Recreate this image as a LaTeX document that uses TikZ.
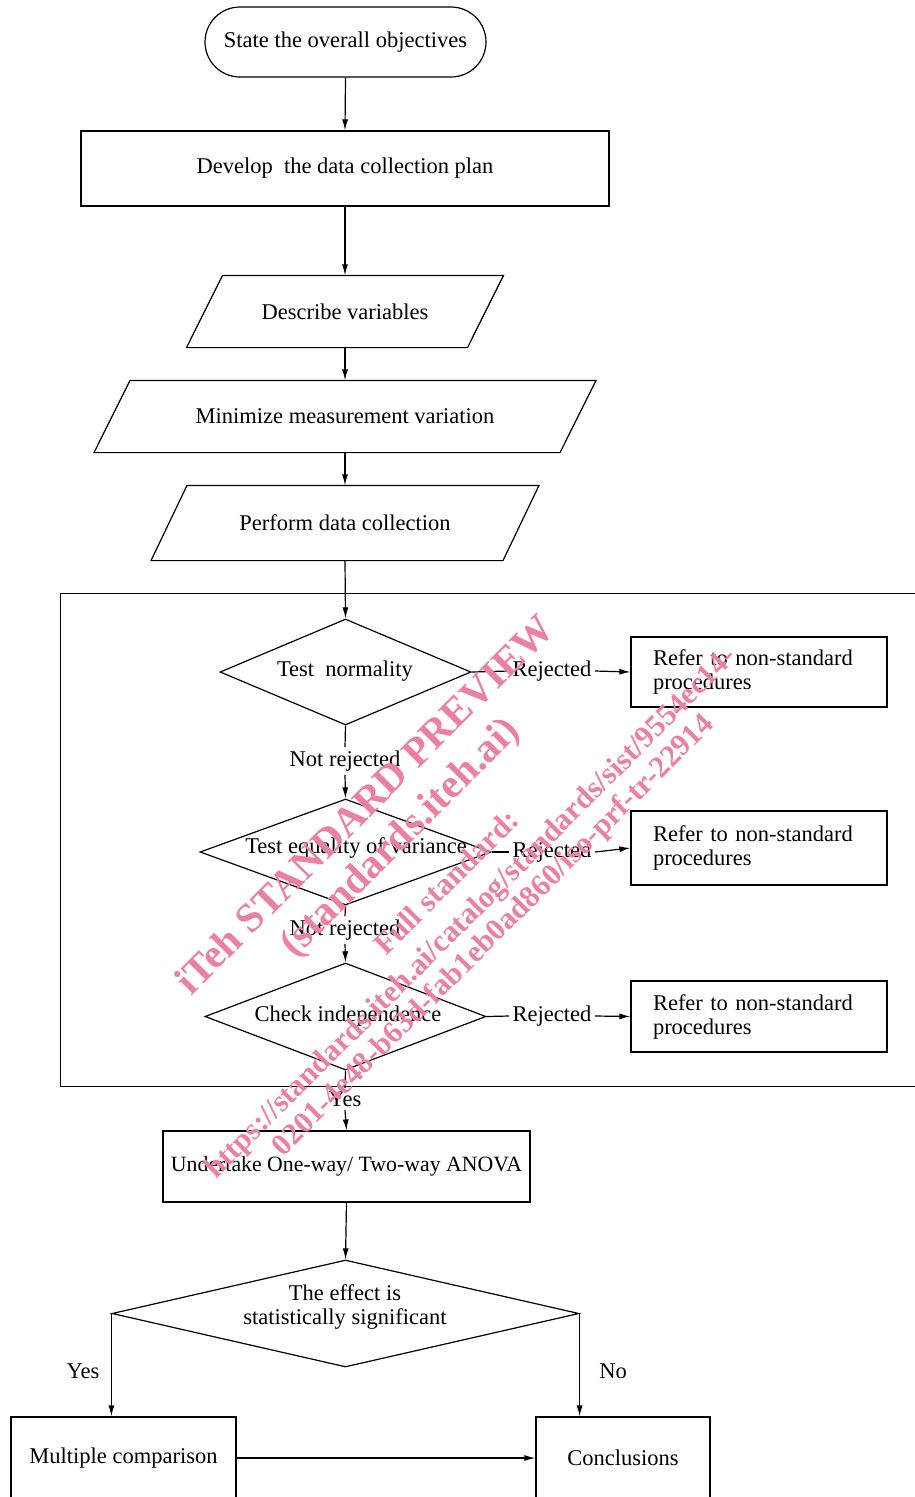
\documentclass[tikz,border=0pt]{standalone}
\usepackage{fontspec}
\setmainfont{Liberation Serif}
\usetikzlibrary{shapes.geometric,arrows.meta,calc}
\definecolor{wm}{RGB}{236,128,160}
\newcommand{\paraoutline}[3]{\draw ([xshift=#3-#2]#1.north) -- ([xshift=#3+#2]#1.north) -- ([xshift=#2-#3]#1.south) -- ([xshift=-#2-#3]#1.south) -- cycle;}
\tikzset{
  term/.style={draw, rounded corners=35pt, minimum width=281pt, minimum height=70pt, inner sep=0pt},
  proc/.style={draw, inner sep=0pt},
  dia/.style={draw, diamond, inner sep=0pt},
  lbl/.style={inner sep=3pt},
  refer/.style={draw, text width=212pt, align=left, inner xsep=22pt, inner ysep=0pt},
  para/.style={inner sep=0pt},
  wmark/.style={text=wm, rotate=45, inner sep=0pt},
  flow/.style={->},
}
\begin{document}
\begin{tikzpicture}[x=1pt,y=-1pt, line width=1.2pt, >={Latex[length=11pt,width=6pt]}, font=\fontsize{22.5}{24}\selectfont]
\useasboundingbox (0,0) rectangle (915,1497);
\clip (0,0) rectangle (915,1497);

% frame
\node[draw, minimum width=870pt, minimum height=493pt, anchor=north west, inner sep=0pt] (frame) at (60,593) {};

\node[term] (start) at (345.5,42) {State the overall objectives};
\node[proc, minimum width=528pt, minimum height=75pt] (dev) at (345,168.5) {Develop\ \ the data collection plan};
\node[para, minimum height=71pt] (p1) at (345,311.5) {Describe variables};
\paraoutline{p1}{140.5}{18}
\node[para, minimum height=71pt] (p2) at (345,416.5) {Minimize measurement variation};
\paraoutline{p2}{233}{18}
\node[para, minimum height=74pt] (p3) at (345,523) {Perform data collection};
\paraoutline{p3}{176}{18}

\node[dia, minimum width=251pt, minimum height=106pt] (d1) at (345.5,672) {};
\node (t1) at (345,671) {Test\ \ normality};
\node[dia, minimum width=291pt, minimum height=106pt] (d2) at (345.5,852) {};
\node (t2) at (356,848) {Test equality of variance};
\node[dia, minimum width=281pt, minimum height=107pt] (d3) at (345.5,1016.5) {};
\node (t3) at (348,1016) {Check independence};

\node[refer, minimum height=70pt] (b1) at (759,672) {Refer to non-standard\\procedures};
\node[refer, minimum height=74pt] (b2) at (759,848) {Refer to non-standard\\procedures};
\node[refer, minimum height=71pt] (b3) at (759,1016.5) {Refer to non-standard\\procedures};

\node[lbl] (r1) at (552,671) {Rejected};
\node[lbl] (r2) at (552,852) {Rejected};
\node[lbl] (r3) at (552,1016) {Rejected};
\node[lbl] (nr1) at (345,761) {Not rejected};
\node[lbl] (nr2) at (345,930) {Not rejected};
\node[lbl] (y1) at (345,1099) {Yes};

\node[proc, minimum width=367pt, minimum height=71pt, font=\fontsize{21.8}{24}\selectfont] (anova) at (346.5,1166.5) {Undertake One-way/ Two-way ANOVA};
\node[dia, minimum width=467pt, minimum height=107pt] (d4) at (345.5,1313.5) {};
\node[align=center] (t4) at (345,1307) {The effect is\\statistically significant};

\node[proc, minimum width=225pt, minimum height=82pt] (mc) at (123.5,1458) {Multiple comparison};
\node[proc, minimum width=174pt, minimum height=82pt] (conc) at (623,1458) {Conclusions};
\node (yes2) at (83,1371) {Yes};
\node (no2) at (613,1371) {No};

% connectors
\draw[flow] (start.south) -- (dev.north);
\draw[flow] (dev.south) -- (p1.north);
\draw[flow] (p1.south) -- (p2.north);
\draw[flow] (p2.south) -- (p3.north);
\draw[flow] (p3.south) -- (d1.north);
\draw (d1.east) -- (r1.west);
\draw[flow] (r1.east) -- (b1.west);
\draw (d1.south) -- (nr1.north);
\draw[flow] (nr1.south) -- (d2.north);
\draw (d2.east) -- (r2.west);
\draw[flow] (r2.east) -- (b2.west);
\draw (d2.south) -- (nr2.north);
\draw[flow] (nr2.south) -- (d3.north);
\draw (d3.east) -- (r3.west);
\draw[flow] (r3.east) -- (b3.west);
\draw (d3.south) -- (y1.north);
\draw[flow] (y1.south) -- (anova.north);
\draw[flow] (anova.south) -- (d4.north);
\draw[flow] (d4.west) -- (d4.west |- mc.north);
\draw[flow] (d4.east) -- (d4.east |- conc.north);
\draw[flow] (mc.east) -- (conc.west);

% watermark
\node[wmark, font=\bfseries\fontsize{41}{41}\selectfont] (w1) at (364,804) {iTeh STANDARD PREVIEW};
\node[wmark, font=\bfseries\fontsize{41}{41}\selectfont] (w2) at (401,839) {(standards.iteh.ai)};
\node[wmark, font=\bfseries\fontsize{31}{31}\selectfont] (w3) at (446,882) {Full standard:};
\node[wmark, font=\bfseries\fontsize{30.5}{30}\selectfont] (w4) at (472,914) {https://standards.iteh.ai/catalog/standards/sist/9554ec14-};
\node[wmark, font=\bfseries\fontsize{30.5}{30}\selectfont] (w5) at (494,936) {0201-4e48-b63d-fab1eb0ad860/iso-prf-tr-22914};
\end{tikzpicture}
\end{document}
